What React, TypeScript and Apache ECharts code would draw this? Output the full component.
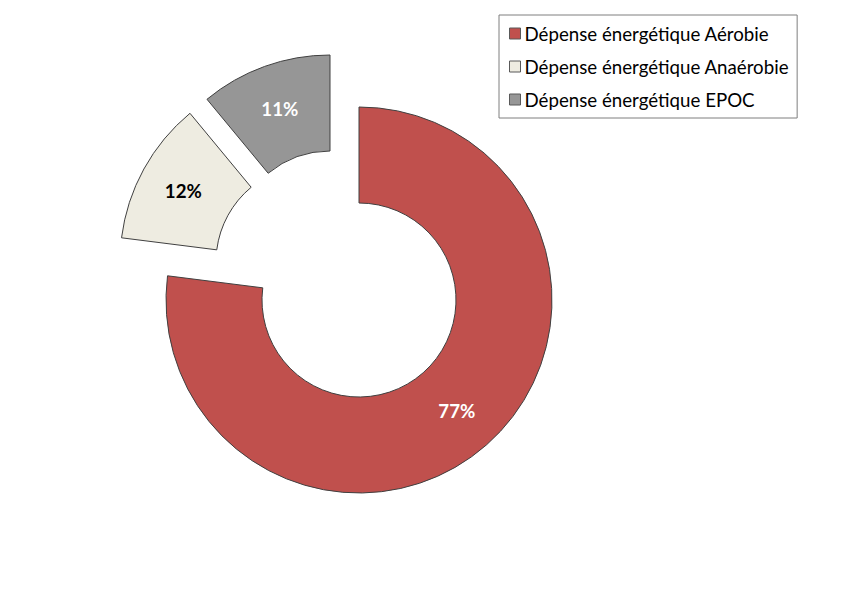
import React, { useEffect, useRef } from "react";
import * as echarts from "echarts";

const categories = [
  "Dépense énergétique Aérobie",
  "Dépense énergétique Anaérobie",
  "Dépense énergétique EPOC",
];
const values = [77, 12, 11];
const colors = ["#C0504D", "#EEECE1", "#969696"];
const labelColors = ["#FFFFFF", "#000000", "#FFFFFF"];
// explosion shift of each slice (x, y) in pixels
const sliceShift = [
  [0, 0],
  [-46, -38],
  [-29, -52],
];

const CX = 351;
const CY = 292;

export default function App() {
  const ref = useRef<HTMLDivElement>(null);
  useEffect(() => {
    if (!ref.current) return;
    const chart = echarts.init(ref.current, null, { renderer: "svg" });
    const series = categories.map((_, s) => ({
      type: "pie",
      name: "s" + s,
      center: [CX + sliceShift[s][0], CY + sliceShift[s][1]],
      radius: [97, 193],
      startAngle: 90,
      clockwise: true,
      avoidLabelOverlap: false,
      emphasis: { disabled: true },
      silent: true,
      labelLine: { show: false },
      data: categories.map((name, i) =>
        i === s
          ? {
              name,
              value: values[i],
              itemStyle: { color: colors[i], borderColor: "#404040", borderWidth: 1 },
              label: {
                show: true,
                position: "inside",
                fontSize: 18.7,
                fontWeight: "bold",
                fontFamily: "Lato",
                color: labelColors[i],
                formatter: (p: any) => p.value + "%",
              },
            }
          : {
              name,
              value: values[i],
              itemStyle: { color: "rgba(0,0,0,0)", borderWidth: 0 },
              label: { show: false },
            }
      ),
    }));
    chart.setOption({
      animation: false,
      backgroundColor: "#FFFFFF",
      textStyle: { fontFamily: "Lato" },
      legend: {
        orient: "vertical",
        left: 491,
        top: 7,
        padding: [9, 8, 9, 10],
        itemGap: 14,
        itemWidth: 11,
        itemHeight: 11,
        borderColor: "#7F7F7F",
        borderWidth: 1,
        icon: "rect",
        selectedMode: false,
        textStyle: { fontSize: 18.7, color: "#000000", fontFamily: "Lato", padding: [0, 0, 0, -1] },
        data: categories.map((name, i) => ({
          name,
          itemStyle: { color: colors[i], borderColor: "#595959", borderWidth: 1 },
        })),
      },
      series,
    });
    return () => chart.dispose();
  }, []);
  return <div ref={ref} style={{ width: 834, height: 581 }} />;
}
